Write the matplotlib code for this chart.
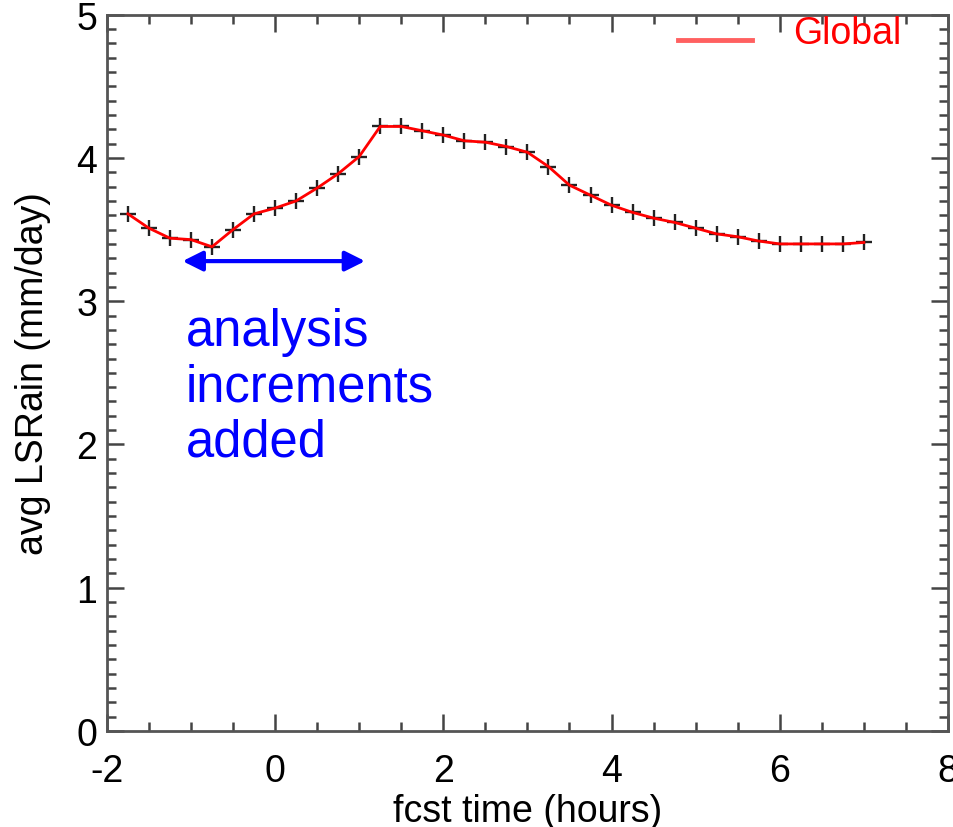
import matplotlib
matplotlib.use('Agg')
import matplotlib.pyplot as plt
from matplotlib.lines import Line2D
from matplotlib.legend_handler import HandlerLine2D
from matplotlib.ticker import MultipleLocator

# forecast time (hours) and area-mean large-scale rain (mm/day)
fcst_time = [-1.75, -1.5, -1.25, -1.0, -0.75, -0.5, -0.25, 0.0, 0.25, 0.5,
             0.75, 1.0, 1.25, 1.5, 1.75, 2.0, 2.25, 2.5, 2.75, 3.0,
             3.25, 3.5, 3.75, 4.0, 4.25, 4.5, 4.75, 5.0, 5.25, 5.5,
             5.75, 6.0, 6.25, 6.5, 6.75, 7.0]
ls_rain = [3.61, 3.51, 3.44, 3.43, 3.38, 3.50, 3.61, 3.65, 3.70, 3.79,
           3.89, 4.01, 4.22, 4.22, 4.19, 4.16, 4.12, 4.11, 4.08, 4.04,
           3.94, 3.81, 3.74, 3.67, 3.62, 3.58, 3.55, 3.51, 3.47, 3.45,
           3.42, 3.40, 3.40, 3.40, 3.40, 3.41]

# window where analysis increments are added
incr_start = -1.1
incr_end = 1.07
incr_level = 3.28


class LowLineHandler(HandlerLine2D):
    """legend line sitting a bit below the text centre, like the original"""
    def create_artists(self, legend, orig_handle, xdescent, ydescent,
                       width, height, fontsize, trans):
        return super().create_artists(legend, orig_handle, xdescent,
                                      ydescent + 0.5 * fontsize, width, height,
                                      fontsize, trans)


plt.rcParams['font.family'] = ['Liberation Sans', 'DejaVu Sans']
plt.rcParams['axes.unicode_minus'] = False

fig = plt.figure(figsize=(9.54, 8.28), dpi=100)
ax = fig.add_axes([0.112, 0.116, 0.8817, 0.865])

ax.plot(fcst_time, ls_rain, linestyle='none', marker='+', markersize=11,
        markeredgewidth=1.7, color='#222222', zorder=2)
ax.plot(fcst_time, ls_rain, color='red', linewidth=2, zorder=3)

ax.annotate('', xy=(incr_end, incr_level), xytext=(incr_start, incr_level),
            arrowprops=dict(arrowstyle='<|-|>,head_length=0.6,head_width=0.3',
                            color='blue', lw=3, mutation_scale=20,
                            shrinkA=0, shrinkB=0))
ax.text(-1.06, 2.96, 'analysis\nincrements\nadded', color='blue', fontsize=36.5,
        ha='left', va='top', linespacing=1.17)

ax.set_xlim(-2, 8)
ax.set_ylim(0, 5)
ax.xaxis.set_major_locator(MultipleLocator(2))
ax.xaxis.set_minor_locator(MultipleLocator(0.5))
ax.yaxis.set_major_locator(MultipleLocator(1))
ax.yaxis.set_minor_locator(MultipleLocator(0.1))
ax.tick_params(which='both', direction='in', top=True, right=True,
               color='#444444', width=1.8, labelsize=27)
ax.tick_params(which='major', length=12)
ax.tick_params(which='minor', length=6.5)
ax.tick_params(axis='x', which='major', pad=16)
ax.tick_params(axis='y', which='major', pad=7)
for sp in ax.spines.values():
    sp.set_color('#555555')
    sp.set_linewidth(2)

ax.set_xlabel('fcst time (hours)', fontsize=27)
ax.xaxis.set_label_coords(0.5, -0.086)
ax.set_ylabel('avg LSRain (mm/day)', fontsize=27, labelpad=18)

handle = Line2D([], [], color='#ff6060', linewidth=3.5)
ax.legend([handle], ['Global'], loc='upper right', bbox_to_anchor=(0.962, 1.02),
          frameon=False, fontsize=27, labelcolor='red', handlelength=1.95,
          handletextpad=1.1, borderaxespad=0,
          handler_map={Line2D: LowLineHandler()})

fig.savefig('out.png', dpi=100)
